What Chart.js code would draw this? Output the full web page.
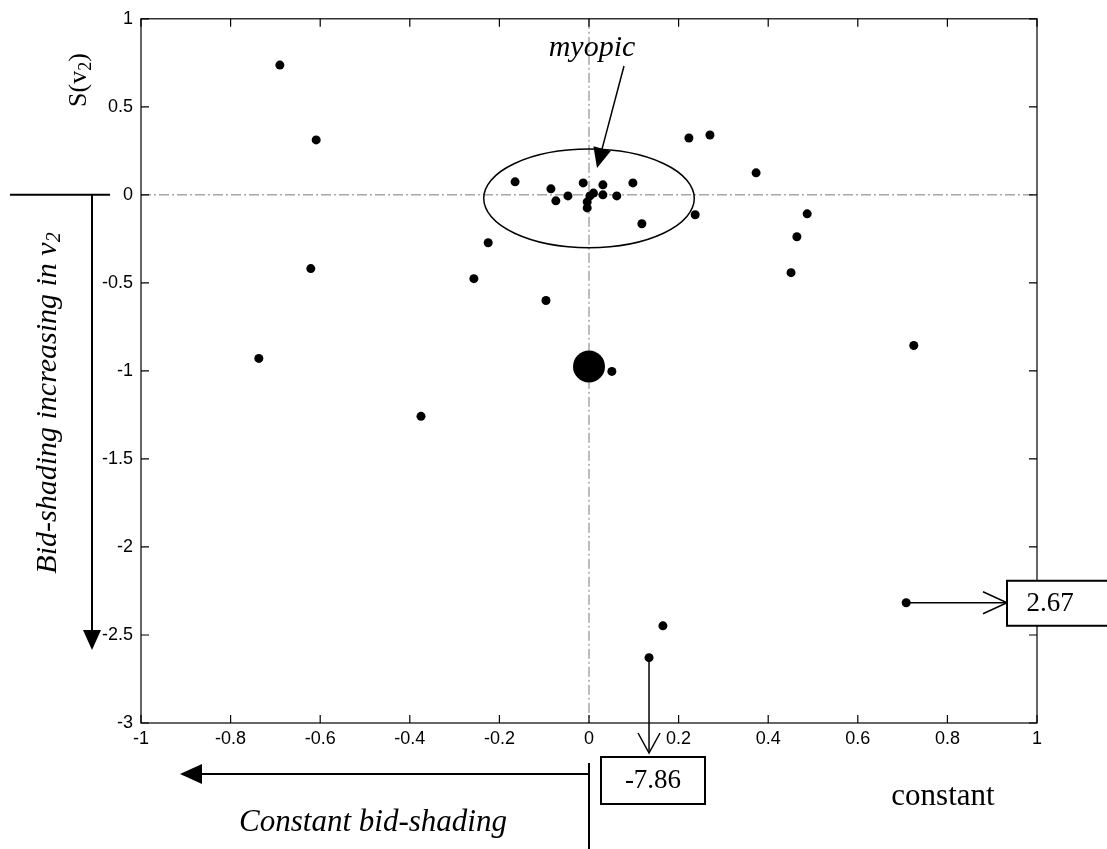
<!DOCTYPE html>
<html>
<head>
<meta charset="utf-8">
<script src="https://cdn.jsdelivr.net/npm/chart.js@4.4.0/dist/chart.umd.min.js"></script>
<style>
  html, body { margin:0; padding:0; background:#fff; }
  #wrap { position:relative; width:1107px; height:849px; }
</style>
</head>
<body>
<div id="wrap"><canvas id="c" width="1107" height="849"></canvas></div>
<script>
// estimated "constant" (x) and S(v2) (y) per bidder
var constantVals = [-0.690, -0.609, -0.621, -0.737, -0.375, -0.257, -0.225, -0.096,
  -0.165, -0.085, -0.074, -0.047, -0.013, 0.002, -0.004, -0.004, 0.010,
  0.031, 0.031, 0.062, 0.098, 0.118, 0.223, 0.270, 0.237, 0.373, 0.487,
  0.464, 0.451, 0.725, 0.051, 0.708, 0.165, 0.134];
var slopeVals = [0.737, 0.312, -0.419, -0.929, -1.258, -0.476, -0.272, -0.600,
  0.074, 0.034, -0.034, -0.006, 0.068, -0.006, -0.040, -0.074, 0.010,
  0.057, 0.000, -0.006, 0.068, -0.164, 0.323, 0.340, -0.113, 0.125, -0.108,
  -0.238, -0.442, -0.856, -1.003, -2.317, -2.448, -2.629];
// the large dot (many bidders at the same place)
var bigConstant = [0.0];
var bigSlope = [-0.975];

var xTicks = [-1, -0.8, -0.6, -0.4, -0.2, 0, 0.2, 0.4, 0.6, 0.8, 1];
var yTicks = [1, 0.5, 0, -0.5, -1, -1.5, -2, -2.5, -3];

// off-scale values shown in boxes: [point index, label]
var offScale = [[31, '2.67'], [33, '-7.86']];

var serif = '"Liberation Serif", "Times New Roman", serif';
var sans = '"Liberation Sans", Arial, sans-serif';

function toPoints(xs, ys){
  return xs.map(function(x, i){ return { x: x, y: ys[i] }; });
}

function filledHead(ctx, tx, ty, dx, dy, len, half){
  var px = -dy, py = dx;
  ctx.beginPath();
  ctx.moveTo(tx, ty);
  ctx.lineTo(tx - dx*len + px*half, ty - dy*len + py*half);
  ctx.lineTo(tx - dx*len - px*half, ty - dy*len - py*half);
  ctx.closePath();
  ctx.fill();
}

function openHead(ctx, tx, ty, dx, dy, len, half){
  var px = -dy, py = dx;
  ctx.beginPath();
  ctx.moveTo(tx - dx*len + px*half, ty - dy*len + py*half);
  ctx.lineTo(tx, ty);
  ctx.lineTo(tx - dx*len - px*half, ty - dy*len - py*half);
  ctx.stroke();
}

function subText(ctx, main, sub, tail, font, subFont){
  // draws "main" + subscript + "tail" centered on the origin
  ctx.font = font;
  var w1 = ctx.measureText(main).width;
  var w3 = ctx.measureText(tail).width;
  ctx.font = subFont;
  var w2 = ctx.measureText(sub).width;
  var x = -(w1 + w2 + w3) / 2;
  ctx.textAlign = 'left';
  ctx.textBaseline = 'middle';
  ctx.font = font;
  ctx.fillText(main, x, 0);
  ctx.font = subFont;
  ctx.fillText(sub, x + w1, 7);
  ctx.font = font;
  ctx.fillText(tail, x + w1 + w2, 0);
}

var zeroLines = {
  id: 'zeroLines',
  beforeDatasetsDraw: function(chart){
    var ctx = chart.ctx, a = chart.chartArea;
    var x0 = chart.scales.x.getPixelForValue(0);
    var y0 = chart.scales.y.getPixelForValue(0);
    ctx.save();
    ctx.strokeStyle = '#7a7a7a';
    ctx.lineWidth = 1;
    ctx.setLineDash([10, 3, 2, 3]);
    ctx.beginPath();
    ctx.moveTo(a.left, y0); ctx.lineTo(a.right, y0);
    ctx.moveTo(x0, a.top); ctx.lineTo(x0, a.bottom);
    ctx.stroke();
    ctx.restore();
  }
};

var decorations = {
  id: 'decorations',
  afterDraw: function(chart){
    var ctx = chart.ctx, a = chart.chartArea;
    var sx = chart.scales.x, sy = chart.scales.y;
    var x0 = sx.getPixelForValue(0), y0 = sy.getPixelForValue(0);
    ctx.save();
    ctx.strokeStyle = '#000';
    ctx.fillStyle = '#000';

    // axes box with inward ticks
    ctx.lineWidth = 1.2;
    ctx.strokeRect(a.left, a.top, a.right - a.left, a.bottom - a.top);
    ctx.beginPath();
    xTicks.forEach(function(v){
      var p = sx.getPixelForValue(v);
      ctx.moveTo(p, a.bottom); ctx.lineTo(p, a.bottom - 8);
      ctx.moveTo(p, a.top); ctx.lineTo(p, a.top + 8);
    });
    yTicks.forEach(function(v){
      var p = sy.getPixelForValue(v);
      ctx.moveTo(a.left, p); ctx.lineTo(a.left + 8, p);
      ctx.moveTo(a.right, p); ctx.lineTo(a.right - 8, p);
    });
    ctx.stroke();

    // myopic ellipse + arrow
    var cy = sy.getPixelForValue(-0.02);
    var rx = sx.getPixelForValue(0.235) - x0;
    var ry = sy.getPixelForValue(-0.3) - cy;
    ctx.lineWidth = 1.5;
    ctx.beginPath();
    ctx.ellipse(x0, cy, rx, ry, 0, 0, Math.PI*2);
    ctx.stroke();
    var tipX = 597, tipY = 168, fromX = 624, fromY = 66;
    var L = Math.hypot(tipX - fromX, tipY - fromY);
    var dx = (tipX - fromX)/L, dy = (tipY - fromY)/L;
    ctx.beginPath();
    ctx.moveTo(fromX, fromY); ctx.lineTo(tipX - dx*10, tipY - dy*10);
    ctx.stroke();
    filledHead(ctx, tipX, tipY, dx, dy, 20, 9);
    ctx.font = 'italic 30px ' + serif;
    ctx.textAlign = 'center';
    ctx.textBaseline = 'middle';
    ctx.fillText('myopic', 592, 48);

    // off-scale points: arrows into boxes
    ctx.lineWidth = 1.5;
    var pA = offScale[0];
    var ax = sx.getPixelForValue(constantVals[pA[0]]), ay = sy.getPixelForValue(slopeVals[pA[0]]);
    ctx.beginPath(); ctx.moveTo(ax, ay); ctx.lineTo(1007, ay); ctx.stroke();
    openHead(ctx, 1007, ay, 1, 0, 24, 11);
    ctx.lineWidth = 2;
    ctx.fillStyle = '#fff';
    ctx.fillRect(1007, ay - 22, 110, 45);
    ctx.strokeRect(1007, ay - 22, 110, 45);
    ctx.fillStyle = '#000';
    ctx.font = '27px ' + serif;
    ctx.fillText(pA[1], 1050, ay + 1);

    var pB = offScale[1];
    var bx = sx.getPixelForValue(constantVals[pB[0]]), by = sy.getPixelForValue(slopeVals[pB[0]]);
    ctx.lineWidth = 1.5;
    ctx.beginPath(); ctx.moveTo(bx, by); ctx.lineTo(bx, 753); ctx.stroke();
    openHead(ctx, bx, 753, 0, 1, 20, 11);
    ctx.lineWidth = 2;
    ctx.strokeRect(601, 757, 104, 47);
    ctx.fillText(pB[1], 653, 781);

    // constant bid-shading arrow (bottom)
    ctx.lineWidth = 2;
    ctx.beginPath();
    ctx.moveTo(x0, 763); ctx.lineTo(x0, 849);
    ctx.moveTo(x0, 774); ctx.lineTo(195, 774);
    ctx.stroke();
    filledHead(ctx, 180, 774, -1, 0, 22, 10);
    ctx.font = 'italic 31px ' + serif;
    ctx.fillText('Constant bid-shading', 373, 823);
    ctx.font = '31px ' + serif;
    ctx.fillText('constant', 943, 797);

    // bid-shading increasing arrow (left)
    ctx.beginPath();
    ctx.moveTo(10, y0); ctx.lineTo(110, y0);
    ctx.moveTo(92, y0); ctx.lineTo(92, 635);
    ctx.stroke();
    filledHead(ctx, 92, 650, 0, 1, 20, 9);

    ctx.save();
    ctx.translate(48, 403);
    ctx.rotate(-Math.PI/2);
    subText(ctx, 'Bid-shading increasing in v', '2', '', 'italic 30px ' + serif, 'italic 20px ' + serif);
    ctx.restore();

    ctx.save();
    ctx.translate(79, 80);
    ctx.rotate(-Math.PI/2);
    subText(ctx, 'S(v', '2', ')', '26px ' + serif, '18px ' + serif);
    ctx.restore();

    ctx.restore();
  }
};

new Chart(document.getElementById('c').getContext('2d'), {
  type: 'scatter',
  data: {
    datasets: [
      { label: 'bidders', data: toPoints(constantVals, slopeVals),
        backgroundColor: '#000', borderWidth: 0, pointRadius: 4.5 },
      { label: 'cluster', data: toPoints(bigConstant, bigSlope),
        backgroundColor: '#000', borderWidth: 0, pointRadius: 16 }
    ]
  },
  options: {
    responsive: false,
    animation: false,
    events: [],
    layout: { padding: { left: 91, right: 70, top: 17, bottom: 96 } },
    plugins: { legend: { display: false }, tooltip: { enabled: false } },
    scales: {
      x: {
        type: 'linear', min: -1, max: 1,
        afterBuildTicks: function(s){ s.ticks = xTicks.map(function(v){ return { value: v }; }); },
        afterFit: function(s){ s.height = 30; },
        grid: { display: false, drawTicks: false },
        border: { display: false },
        ticks: { padding: 5, color: '#000', font: { family: sans, size: 18 },
          callback: function(v){ return String(v); } }
      },
      y: {
        type: 'linear', min: -3, max: 1,
        afterBuildTicks: function(s){ s.ticks = yTicks.map(function(v){ return { value: v }; }); },
        afterFit: function(s){ s.width = 50; },
        grid: { display: false, drawTicks: false },
        border: { display: false },
        ticks: { padding: 8, color: '#000', font: { family: sans, size: 18 },
          callback: function(v){ return String(v); } }
      }
    }
  },
  plugins: [zeroLines, decorations]
});
</script>
</body>
</html>
